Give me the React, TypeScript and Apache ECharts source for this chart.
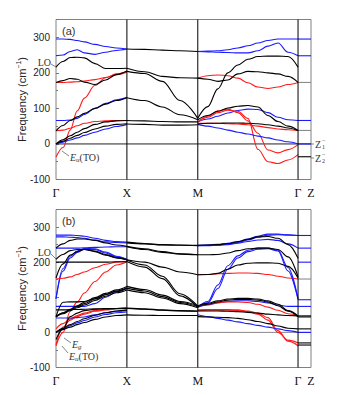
import React, { useEffect, useRef } from 'react';
import * as echarts from 'echarts';

// path coordinates (Γ-X = 1)
const K_GX = [0, 0.1, 0.2, 0.3, 0.4, 0.55, 0.7, 0.85, 1];
const K_XM = [1, 1.25, 1.5, 1.75, 2];
const K_MG = [2, 2.1414, 2.2828, 2.4243, 2.5657, 2.7071, 2.8485, 2.9899, 3.1314, 3.2728, 3.4142];
const K_GZ = [3.4142, 3.597];
const HS_POS = [0, 1, 2, 3.4142, 3.597];
const HS_LABELS = ['Γ', 'X', 'M', 'Γ', 'Z'];
const HS_LINES = [1, 2, 3.4142];

type Band = [string, number[]];
type Flat = [string, number];

// ---------- panel (a) ----------
const A_GX: Band[] = [
  ['b', [295, 295, 294, 291, 287, 280, 274, 270, 267]],
  ['b', [248, 250, 260, 265, 256, 252, 258, 263, 267]],
  ['k', [216, 232, 243, 244, 242, 226, 212, 212, 213]],
  ['k', [173, 178, 184, 182, 174, 167, 180, 195, 205]],
  ['r', [173, 173, 174, 175, 177, 181, 187, 195, 202]],
  ['r', [-37, -10, 39, 93, 129, 165, 186, 197, 204]],
  ['k', [37, 52, 66, 76, 86, 100, 112, 122, 130]],
  ['b', [66, 66, 67, 72, 83, 100, 114, 124, 131]],
  ['r', [37, 39, 44, 51, 58, 63, 65, 66, 66]],
  ['k', [0, 12, 23, 33, 43, 55, 62, 65, 66]],
  ['k', [0, 8, 16, 24, 32, 42, 50, 55, 57]],
  ['b', [0, 5, 11, 17, 24, 33, 42, 49, 55]],
];
const A_XM: Band[] = [
  ['k', [267, 266, 264, 262, 260]],
  ['k', [213, 203, 190, 186, 185]],
  ['k', [204, 198, 176, 122, 72]],
  ['k', [130, 122, 104, 82, 68]],
  ['k', [66, 65, 63, 62, 62]],
  ['k', [56, 55, 53, 53, 54]],
];
const A_MG: Band[] = [
  ['b', [260, 261, 262, 265, 270, 276, 284, 291, 295, 295, 295]],
  ['b', [260, 259, 258, 257, 256, 256, 262, 275, 284, 258, 248]],
  ['k', [72, 105, 155, 200, 222, 238, 246, 247, 247, 246, 216]],
  ['k', [185, 182, 176, 180, 197, 204, 203, 200, 197, 190, 173]],
  ['r', [185, 192, 194, 192, 185, 172, 160, 156, 160, 167, 173]],
  ['k', [68, 80, 92, 101, 106, 108, 104, 80, 63, 50, 38]],
  ['b', [62, 70, 78, 87, 94, 98, 97, 88, 75, 68, 66]],
  ['r', [62, 78, 93, 98, 88, 65, 30, -17, -25, -16, -2]],
  ['r', [62, 75, 88, 95, 92, 72, -15, -50, -55, -45, -30]],
  ['r', [58, 58, 58, 57, 56, 54, 50, 46, 42, 40, 38]],
  ['k', [56, 58, 58, 59, 59, 58, 57, 54, 50, 45, 38]],
  ['b', [55, 50, 45, 39, 33, 28, 22, 17, 11, 6, 0]],
];
const A_GZ: Flat[] = [
  ['b', 295], ['b', 248], ['g', 173], ['b', 66], ['g', 38], ['b', 0], ['k', -36],
];

// ---------- panel (b) ----------
const B_GX: Band[] = [
  ['b', [277, 277, 277, 276, 274, 268, 262, 259, 257]],
  ['b', [272, 272, 271, 270, 268, 263, 258, 256, 255]],
  ['k', [240, 252, 262, 266, 266, 262, 255, 249, 245]],
  ['b', [240, 240, 240, 240, 241, 242, 243, 244, 244]],
  ['k', [208, 222, 233, 236, 236, 230, 220, 212, 207]],
  ['k', [155, 195, 220, 230, 236, 232, 222, 213, 206]],
  ['b', [95, 175, 212, 228, 237, 236, 226, 215, 207]],
  ['b', [97, 182, 217, 232, 239, 238, 229, 217, 208]],
  ['k', [200, 200, 200, 200, 200, 200, 200, 201, 201]],
  ['r', [152, 154, 158, 165, 172, 184, 194, 200, 202]],
  ['r', [-38, 0, 60, 87, 112, 145, 172, 192, 201]],
  ['k', [45, 56, 66, 76, 86, 99, 111, 121, 131]],
  ['k', [45, 55, 64, 73, 82, 95, 107, 117, 126]],
  ['k', [44, 53, 62, 70, 78, 91, 103, 113, 121]],
  ['k', [45, 86, 87, 87, 88, 96, 108, 118, 126]],
  ['b', [74, 74, 74, 74, 74, 82, 100, 115, 127]],
  ['k', [64, 64, 65, 65, 66, 67, 68, 68, 69]],
  ['r', [10, 25, 38, 48, 55, 62, 66, 68, 69]],
  ['r', [-35, 15, 35, 45, 52, 60, 64, 67, 69]],
  ['b', [41, 41, 41, 42, 44, 50, 56, 60, 62]],
  ['k', [0, 12, 22, 31, 39, 49, 56, 61, 64]],
  ['b', [0, 10, 19, 27, 34, 44, 51, 56, 58]],
  ['k', [0, 8, 15, 22, 28, 37, 44, 48, 50]],
  ['k', [-20, 10, 45, 55, 62, 66, 67, 68, 68]],
];
const B_XM: Band[] = [
  ['k', [257, 253, 250, 249, 248]],
  ['k', [255, 252, 249, 248, 247]],
  ['k', [245, 238, 230, 224, 221]],
  ['k', [244, 236, 228, 223, 221]],
  ['k', [207, 200, 186, 172, 164]],
  ['k', [206, 192, 160, 110, 75]],
  ['k', [202, 186, 153, 104, 72]],
  ['k', [131, 122, 106, 88, 76]],
  ['k', [126, 118, 102, 85, 73]],
  ['k', [121, 113, 98, 82, 70]],
  ['k', [69, 67, 64, 62, 61]],
  ['k', [68, 66, 63, 61, 60]],
  ['k', [50, 49, 48, 48, 48]],
];
const B_MG: Band[] = [
  ['b', [248, 249, 251, 254, 259, 266, 274, 280, 280, 278, 276]],
  ['b', [247, 248, 249, 252, 256, 263, 271, 277, 278, 277, 276]],
  ['k', [248, 249, 250, 253, 258, 265, 272, 273, 268, 250, 211]],
  ['b', [247, 247, 248, 250, 254, 259, 263, 265, 262, 252, 240]],
  ['k', [221, 221, 222, 226, 233, 238, 240, 240, 236, 215, 158]],
  ['k', [164, 165, 168, 180, 192, 197, 198, 198, 197, 188, 155]],
  ['r', [164, 165, 167, 168, 169, 169, 168, 165, 160, 155, 152]],
  ['b', [72, 88, 135, 190, 218, 234, 240, 240, 234, 185, 96]],
  ['b', [72, 84, 125, 180, 212, 230, 237, 238, 232, 175, 93]],
  ['k', [76, 83, 90, 95, 97, 97, 95, 90, 80, 62, 47]],
  ['k', [73, 80, 87, 92, 94, 94, 92, 87, 76, 60, 44]],
  ['b', [72, 78, 84, 88, 90, 90, 88, 84, 78, 74, 74]],
  ['r', [74, 80, 85, 87, 87, 85, 80, 72, 63, 53, 47]],
  ['r', [64, 65, 65, 65, 64, 61, 55, 42, 5, -25, -38]],
  ['r', [62, 63, 63, 63, 62, 59, 52, 35, 0, -22, -30]],
  ['k', [61, 61, 61, 60, 59, 57, 55, 52, 50, 48, 47]],
  ['b', [50, 45, 40, 35, 30, 25, 20, 15, 10, 5, 0]],
  ['k', [45, 44, 43, 42, 40, 36, 31, 25, 18, 12, 10]],
];
const B_GZ: Flat[] = [
  ['b', 276], ['b', 240], ['b', 200], ['g', 152], ['b', 93], ['b', 74],
  ['k', 47], ['k', 44], ['k', 10], ['b', 0], ['k', -30], ['k', -36],
];

const COLORS: Record<string, string> = { k: '#000000', r: '#ff1a1a', b: '#1a1aff', g: '#8c8c8c' };
const SANS = '"Liberation Sans", Arial, sans-serif';
const SERIF = '"Liberation Serif", "Times New Roman", serif';

function bandSeries(g: number, ks: number[], bands: Band[]) {
  return bands.map(([c, v]) => ({
    type: 'line', xAxisIndex: g, yAxisIndex: g,
    data: v.map((y, i) => [ks[i], y]),
    smooth: 0.35, smoothMonotone: 'x', showSymbol: false, symbol: 'none', silent: true,
    lineStyle: { color: COLORS[c], width: 1.1 }, z: c === 'k' ? 3 : 2,
  }));
}
function flatSeries(g: number, flats: Flat[]) {
  return flats.map(([c, v]) => ({
    type: 'line', xAxisIndex: g, yAxisIndex: g,
    data: K_GZ.map((k) => [k, v]), showSymbol: false, symbol: 'none', silent: true,
    lineStyle: { color: COLORS[c], width: 1.1 }, z: 2,
  }));
}
function refSeries(g: number, zeroColor: string) {
  const s: any[] = HS_LINES.map((x) => ({
    type: 'line', xAxisIndex: g, yAxisIndex: g, data: [[x, -100], [x, 350]],
    showSymbol: false, symbol: 'none', silent: true, lineStyle: { color: '#000', width: 1 }, z: 4,
  }));
  s.push({
    type: 'line', xAxisIndex: g, yAxisIndex: g, data: [[0, 0], [3.597, 0]],
    showSymbol: false, symbol: 'none', silent: true, lineStyle: { color: zeroColor, width: 1 }, z: 1,
  });
  return s;
}

function xAxis(g: number) {
  return {
    type: 'value', gridIndex: g, min: 0, max: 3.597,
    axisLine: { show: false }, axisTick: { show: false }, splitLine: { show: false },
    axisLabel: {
      customValues: HS_POS, margin: 7, color: '#111', fontFamily: SERIF, fontSize: 12,
      formatter: (v: number) => {
        let best = 0;
        HS_POS.forEach((p, i) => { if (Math.abs(p - v) < Math.abs(HS_POS[best] - v)) best = i; });
        return HS_LABELS[best];
      },
    },
  };
}
function yAxis(g: number) {
  return {
    type: 'value', gridIndex: g, min: -100, max: 350, interval: 100,
    name: '{a|Frequency (cm}{s|−1}{a|)}', nameLocation: 'middle', nameGap: 27, nameMoveOverlap: false,
    nameTextStyle: {
      rich: {
        a: { fontFamily: SANS, fontSize: 11, color: '#222', lineHeight: 14 },
        s: { fontFamily: SANS, fontSize: 7, color: '#222', lineHeight: 14, verticalAlign: 'top' },
      },
    },
    axisLine: { show: false },
    axisTick: { show: true, inside: true, length: 3, lineStyle: { color: '#777' } },
    minorTick: { show: true, splitNumber: 2, length: 2, lineStyle: { color: '#777' } },
    splitLine: { show: false },
    axisLabel: { showMaxLabel: false, margin: 6, color: '#222', fontFamily: SANS, fontSize: 10 },
  };
}

function txt(x: number, y: number, text: string, font: string, align = 'left', rich?: any) {
  return {
    type: 'text', x, y, silent: true, z: 10,
    style: { text, font, fill: '#333', textAlign: align, textVerticalAlign: 'middle', align, verticalAlign: 'middle', rich },
  };
}
function leader(x1: number, y1: number, x2: number, y2: number) {
  return { type: 'line', silent: true, z: 10, shape: { x1, y1, x2, y2 }, style: { stroke: '#666', lineWidth: 0.8 } };
}
const EU_RICH = {
  e: { fontFamily: SERIF, fontStyle: 'italic', fontSize: 10, fill: '#333', lineHeight: 13 },
  u: { fontFamily: SERIF, fontStyle: 'italic', fontSize: 7, fill: '#333', lineHeight: 13, verticalAlign: 'bottom' },
  n: { fontFamily: SERIF, fontSize: 10, fill: '#333', lineHeight: 13 },
};

export default function App() {
  const ref = useRef<HTMLDivElement>(null);
  useEffect(() => {
    if (!ref.current) return;
    const chart = echarts.init(ref.current, undefined, { renderer: 'svg' });
    const series: any[] = [
      ...refSeries(0, '#222'),
      ...bandSeries(0, K_GX, A_GX), ...bandSeries(0, K_XM, A_XM), ...bandSeries(0, K_MG, A_MG), ...flatSeries(0, A_GZ),
      ...refSeries(1, '#888'),
      ...bandSeries(1, K_GX, B_GX), ...bandSeries(1, K_XM, B_XM), ...bandSeries(1, K_MG, B_MG), ...flatSeries(1, B_GZ),
    ];
    const f10s = `10px ${SERIF}`;
    const f6s = `6px ${SERIF}`;
    chart.setOption({
      animation: false,
      backgroundColor: '#fff',
      grid: [
        { left: 56, top: 19.5, width: 255, height: 160, show: true, borderColor: '#808080', borderWidth: 1, backgroundColor: 'transparent' },
        { left: 56, top: 209.5, width: 255, height: 158, show: true, borderColor: '#808080', borderWidth: 1, backgroundColor: 'transparent' },
      ],
      xAxis: [xAxis(0), xAxis(1)],
      yAxis: [yAxis(0), yAxis(1)],
      series,
      graphic: [
        txt(62, 31, '(a)', `11px ${SANS}`),
        txt(62, 221, '(b)', `11px ${SANS}`),
        txt(51, 62, 'LO', f10s, 'right'),
        leader(51, 64, 56, 67),
        txt(51, 252, 'LO', f10s, 'right'),
        leader(51, 254, 56, 259),
        leader(62, 151, 69, 156),
        txt(70, 157, '{e|E}{u|u}{n|(TO)}', f10s, 'left', EU_RICH),
        leader(64, 338, 71, 343),
        txt(72, 344, '{e|E}{u|g}', f10s, 'left', EU_RICH),
        leader(62, 346, 68, 353),
        txt(69, 356, '{e|E}{u|u}{n|(TO)}', f10s, 'left', EU_RICH),
        leader(311, 144, 314, 144),
        txt(315, 144, 'Z', f10s),
        txt(322, 147, '1', f6s),
        txt(322, 140, '−', f6s),
        leader(311, 158, 314, 158),
        txt(315, 158, 'Z', f10s),
        txt(322, 161, '2', f6s),
        txt(322, 154, '−', f6s),
      ],
    });
    return () => chart.dispose();
  }, []);
  return <div ref={ref} style={{ position: 'fixed', left: 0, top: 0, width: 338, height: 395, background: '#fff' }} />;
}
